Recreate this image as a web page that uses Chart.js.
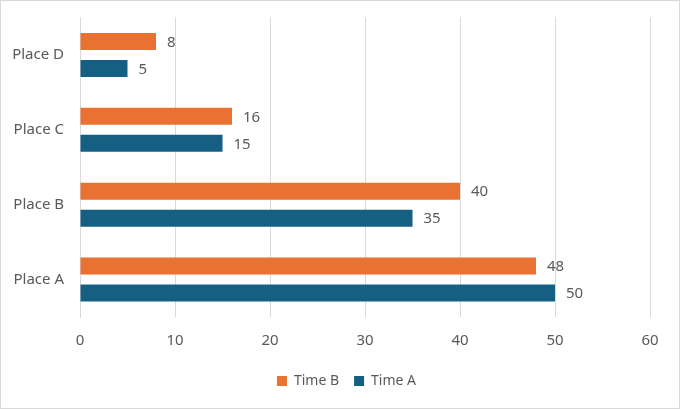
<!DOCTYPE html>
<html>
<head>
<meta charset="utf-8">
<script src="https://cdn.jsdelivr.net/npm/chart.js@4"></script>
<style>
  html, body { margin: 0; padding: 0; background: #fff; }
  #wrap { width: 678px; height: 407px; border: 1px solid #d9d9d9; position: relative; }
</style>
</head>
<body>
<div id="wrap"><canvas id="chart" width="678" height="407"></canvas></div>
<script>
const places = ['Place D', 'Place C', 'Place B', 'Place A'];
const timeB = [8, 16, 40, 48];
const timeA = [5, 15, 35, 50];
const xTicks = [0, 10, 20, 30, 40, 50, 60];

const textColor = '#595959';
const fontFamily = '"Noto Sans", "Open Sans", sans-serif';

// labels drawn next to the end of each bar
const barValues = {
  id: 'barValues',
  afterDatasetsDraw(chart) {
    const ctx = chart.ctx;
    ctx.save();
    ctx.font = '15px ' + fontFamily;
    ctx.fillStyle = textColor;
    ctx.textBaseline = 'middle';
    ctx.textAlign = 'left';
    chart.data.datasets.forEach((ds, i) => {
      chart.getDatasetMeta(i).data.forEach((bar, j) => {
        ctx.fillText(String(ds.data[j]), bar.x + 11, bar.y + 1);
      });
    });
    ctx.restore();
  }
};

// legend sits a bit right of centre and at a fixed height in the original
const legendShift = {
  id: 'legendShift',
  afterLayout(chart) {
    const lg = chart.legend;
    const h = lg.bottom - lg.top;
    lg.left += 21;
    lg.right += 21;
    lg.top = 358;
    lg.bottom = 358 + h;
  }
};

new Chart(document.getElementById('chart'), {
  type: 'bar',
  data: {
    labels: places,
    datasets: [
      { label: 'Time B', data: timeB, backgroundColor: '#e97132', borderWidth: 0 },
      { label: 'Time A', data: timeA, backgroundColor: '#156082', borderWidth: 0 }
    ]
  },
  options: {
    indexAxis: 'y',
    responsive: false,
    animation: false,
    categoryPercentage: 0.72,
    barPercentage: 0.63,
    layout: { padding: { top: 16.5, right: 29, left: 0, bottom: 4 } },
    scales: {
      x: {
        min: 0,
        max: 60,
        afterBuildTicks: s => { s.ticks = xTicks.map(v => ({ value: v })); },
        grid: { color: '#d9d9d9', drawTicks: false },
        border: { display: false },
        ticks: { color: textColor, font: { size: 15, family: fontFamily }, padding: 15 }
      },
      y: {
        grid: { display: false },
        border: { color: '#d9d9d9' },
        afterFit: s => { s.width = 79; s.paddingTop = 0; s.paddingBottom = 0; },
        ticks: { color: textColor, font: { size: 15, family: fontFamily }, padding: 8 }
      }
    },
    plugins: {
      legend: {
        position: 'bottom',
        labels: {
          color: textColor,
          font: { size: 14, family: fontFamily },
          boxWidth: 10,
          boxHeight: 10,
          padding: 15
        }
      },
      tooltip: { enabled: false }
    }
  },
  plugins: [barValues, legendShift]
});
</script>
</body>
</html>
